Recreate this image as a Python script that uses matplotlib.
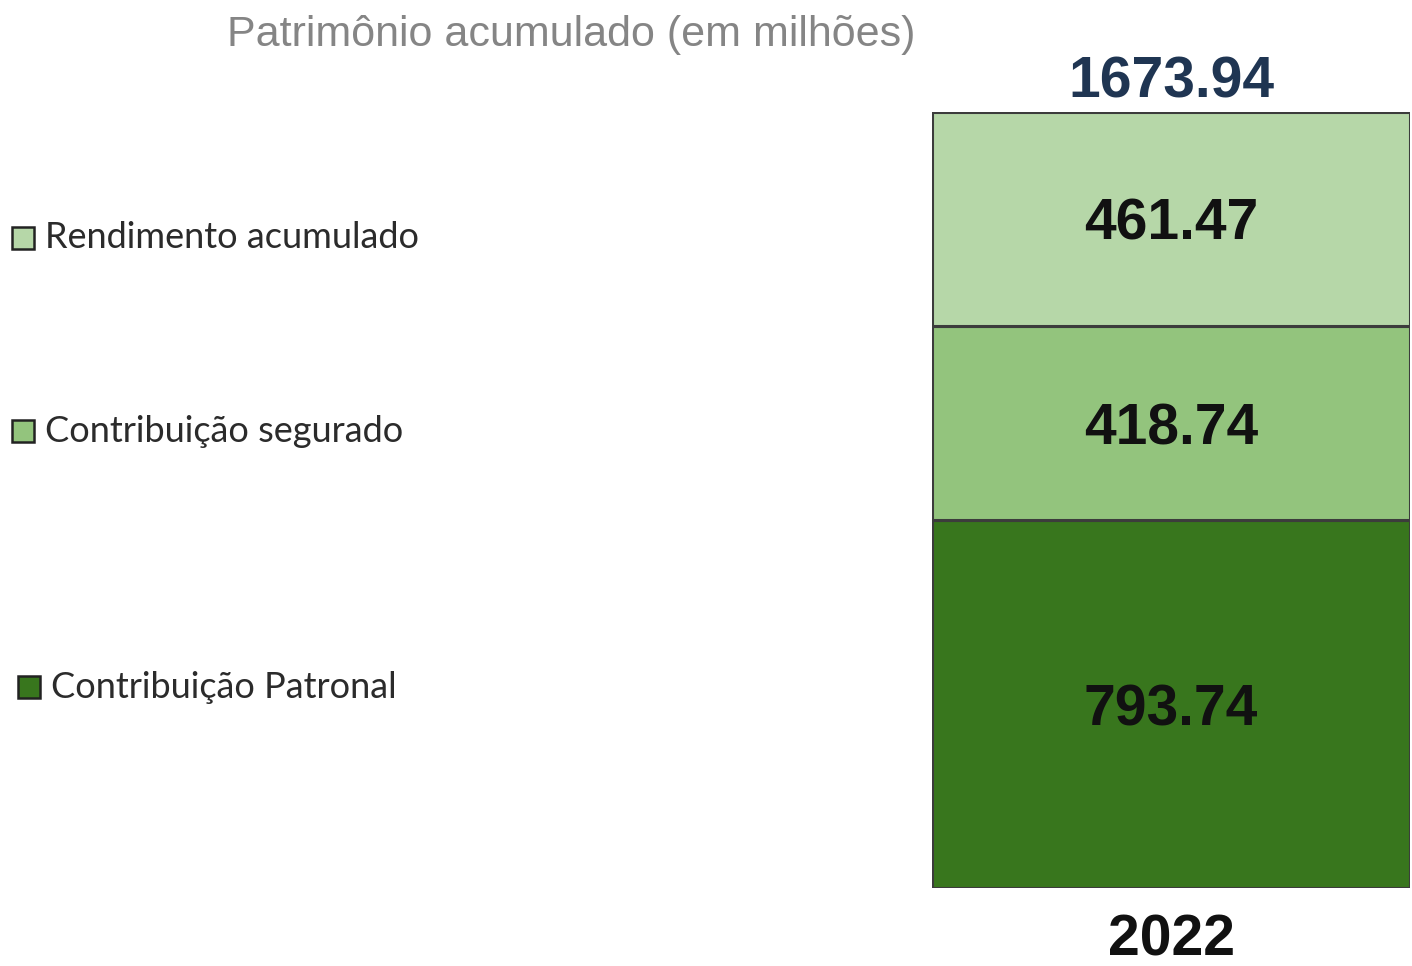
import matplotlib.pyplot as plt
from matplotlib.patches import Rectangle

# === Data ===
years = ["2022"]
series_names = ["Contribuição Patronal", "Contribuição segurado", "Rendimento acumulado"]
patronal = [793.74]
segurado = [418.74]
rendimento = [461.47]
totals = [1673.94]  # as printed on the chart
colors = ["#38761d", "#93c47d", "#b6d7a8"]

W, H = 1412, 966
fig = plt.figure(figsize=(W / 100, H / 100), dpi=100)
fig.patch.set_facecolor("white")

# axes placed so the single bar fills it
ax = fig.add_axes([932 / W, (H - 888) / H, (1410 - 932) / W, 776 / H])
series = [patronal, segurado, rendimento]

bottom = [0] * len(years)
for vals, col in zip(series, colors):
    bars = ax.bar(years, vals, bottom=bottom, width=1.0, color=col,
                  edgecolor="#3c3c3c", linewidth=2.2)
    for b, v, bt in zip(bars, vals, bottom):
        ax.text(b.get_x() + b.get_width() / 2, bt + v / 2 - 13, f"{v:.2f}",
                ha="center", va="center", fontsize=41, fontweight="bold",
                color="#111111", family="Liberation Sans")
    bottom = [a + b for a, b in zip(bottom, vals)]

for i, t in enumerate(totals):
    ax.text(i, bottom[i] + 6, f"{t:.2f}", ha="center", va="bottom", fontsize=41,
            fontweight="bold", color="#1f3552", family="Liberation Sans")
    ax.text(i, -55, years[i], ha="center", va="top", fontsize=41,
            fontweight="bold", color="#111111", family="Liberation Sans")

ax.set_xlim(-0.5, 0.5)
ax.set_ylim(0, bottom[0])
ax.axis("off")

# Title
fig.text(571 / W, 1 - 35 / H, "Patrimônio acumulado (em milhões)", ha="center",
         va="center", fontsize=31, color="#858585", family="Liberation Sans")

# Legend-like labels on the left
legend_pos = [(18, 687), (12, 431), (12, 238)]
for name, col, (lx, ly) in zip(series_names, colors, legend_pos):
    fig.patches.append(Rectangle((lx / W, 1 - (ly + 11) / H), 22 / W, 22 / H,
                                 transform=fig.transFigure, facecolor=col,
                                 edgecolor="#222222", linewidth=1.8))
    fig.text((lx + 33) / W, 1 - ly / H, name, ha="left", va="center",
             fontsize=26, color="#2b2b2b", family="Lato")

fig.savefig("out.png", dpi=100, facecolor="white")
